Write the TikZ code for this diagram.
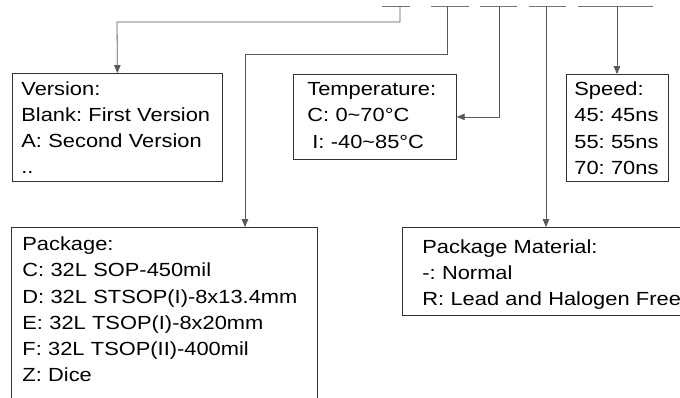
\documentclass[tikz,border=0pt]{standalone}
\usepackage{fontspec}
\setmainfont{Liberation Sans}[FakeStretch=1.15]
\frenchspacing
\usetikzlibrary{arrows}

\begin{document}
\begin{tikzpicture}[line cap=butt,line join=miter,>=triangle 45,x=1pt,y=-1pt,
	field/.style={draw=black!80,line width=0.8pt,anchor=north west,align=left,inner ysep=0pt,font=\fontsize{19}{26.3}\selectfont},
	link/.style={draw=black!65,line width=0.8pt},
	slot/.style={draw=black!55,line width=1pt}]
	\useasboundingbox (0,0) rectangle (680,397);
	\clip (0,0) rectangle (680,397);
	
	\foreach \a/\b in {382/410,431/469,480/517,529/566,578/653}
		\draw[slot] (\a,6) -- (\b,6);
	
	\coordinate (s1) at (400,6);
	\coordinate (s2) at (447,6);
	\coordinate (s3) at (499,6);
	\coordinate (s4) at (546,6);
	\coordinate (s5) at (617,6);
	\coordinate (b1) at (117,22);
	\coordinate (b2) at (245,54);
	
	\node[field,inner xsep=9pt,text width=192pt,text height=21.6pt,text depth=86.4pt] (ver) at (12,73) {Version:\\Blank: First Version\\A: Second Version\\..};
	\node[field,inner xsep=14pt,text width=135pt,text height=21pt,text depth=64pt] (tmp) at (293,74) {Temperature:\\C: 0\textasciitilde70°C\\\hspace*{5pt}I: -40\textasciitilde85°C};
	\node[field,inner xsep=8pt,text width=86pt,text height=21pt,text depth=86pt] (spd) at (566,74) {Speed:\\45: 45ns\\55: 55ns\\70: 70ns};
	\node[field,inner xsep=11pt,text width=284pt,text height=23pt,text depth=200pt] (pkg) at (11,227) {Package:\\C: 32L SOP-450mil\\D: 32L STSOP(I)-8x13.4mm\\E: 32L TSOP(I)-8x20mm\\F: 32L TSOP(II)-400mil\\Z: Dice};
	\node[field,inner xsep=20pt,text width=300pt,text height=25.6pt,text depth=62.4pt] (mat) at (402,227) {Package Material:\\-: Normal\\R: Lead and Halogen Free};
	
	\draw[link,->] (s1) |- (b1) -- (ver.north);
	\draw[link,->] (s2) |- (b2) -- (b2 |- pkg.north);
	\draw[link,->] (s3) |- (tmp.east);
	\draw[link,->] (s4) -- (s4 |- mat.north);
	\draw[link,->] (s5) -- (s5 |- spd.north);
\end{tikzpicture}
\end{document}
